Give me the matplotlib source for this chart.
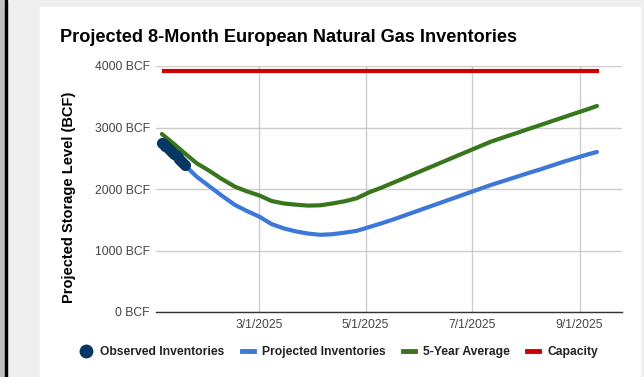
import matplotlib
matplotlib.use("Agg")
import matplotlib.pyplot as plt
import matplotlib.dates as mdates
from matplotlib.patches import Rectangle
from matplotlib.lines import Line2D
import pandas as pd

plt.rcParams['font.family'] = ['Liberation Sans', 'DejaVu Sans']

# ---- data ----
obs_dates = pd.date_range("2025-01-04", "2025-01-17", freq="D")
obs_values = [2745, 2725, 2700, 2675, 2650, 2625, 2600, 2575, 2545, 2515, 2485, 2455, 2420, 2390]

proj_dates = pd.to_datetime([
    "2025-01-17", "2025-01-24", "2025-01-31", "2025-02-07", "2025-02-15", "2025-02-22",
    "2025-03-01", "2025-03-08", "2025-03-15", "2025-03-22", "2025-03-29", "2025-04-05",
    "2025-04-12", "2025-04-19", "2025-04-26", "2025-05-03", "2025-05-10", "2025-05-17",
    "2025-05-24", "2025-05-31", "2025-06-07", "2025-06-14", "2025-06-21", "2025-06-28",
    "2025-07-05", "2025-07-12", "2025-07-19", "2025-07-26", "2025-08-02", "2025-08-09",
    "2025-08-16", "2025-08-23", "2025-08-30", "2025-09-06", "2025-09-11"])
proj_values = [2390, 2200, 2050, 1900, 1740, 1640,
               1550, 1430, 1360, 1310, 1275, 1255,
               1265, 1290, 1320, 1380, 1440, 1505,
               1575, 1645, 1715, 1785, 1855, 1925,
               1995, 2065, 2128, 2190, 2255, 2315,
               2380, 2445, 2505, 2565, 2602]

avg_dates = pd.to_datetime([
    "2025-01-04", "2025-01-11", "2025-01-18", "2025-01-24", "2025-01-31", "2025-02-07",
    "2025-02-15", "2025-02-22", "2025-03-01", "2025-03-08", "2025-03-15", "2025-03-22",
    "2025-03-29", "2025-04-05", "2025-04-12", "2025-04-19", "2025-04-26", "2025-05-03",
    "2025-05-10", "2025-05-17", "2025-05-24", "2025-05-31", "2025-06-07", "2025-06-14",
    "2025-06-21", "2025-06-28", "2025-07-05", "2025-07-12", "2025-07-19", "2025-07-26",
    "2025-08-02", "2025-08-09", "2025-08-16", "2025-08-23", "2025-08-30", "2025-09-06",
    "2025-09-11"])
avg_values = [2894, 2730, 2560, 2418, 2300, 2170,
              2037, 1960, 1895, 1805, 1765, 1745,
              1730, 1735, 1765, 1800, 1850, 1945,
              2020, 2103, 2186, 2270, 2353, 2436,
              2520, 2603, 2686, 2769, 2836, 2902,
              2969, 3035, 3102, 3168, 3235, 3300,
              3350]

cap_dates = pd.to_datetime(["2025-01-05", "2025-09-11"])
cap_values = [3920, 3920]

x_ticks = pd.to_datetime(["2025-03-01", "2025-05-01", "2025-07-01", "2025-09-01"])
x_tick_labels = ["3/1/2025", "5/1/2025", "7/1/2025", "9/1/2025"]
y_ticks = [0, 1000, 2000, 3000, 4000]
y_tick_labels = ["0 BCF", "1000 BCF", "2000 BCF", "3000 BCF", "4000 BCF"]

title = "Projected 8-Month European Natural Gas Inventories"
ylabel = "Projected Storage Level (BCF)"
series_names = ["Observed Inventories", "Projected Inventories", "5-Year Average", "Capacity"]

# ---- colors ----
c_obs = "#073763"
c_proj = "#3c78d8"
c_avg = "#38761d"
c_cap = "#cc0000"

W, H = 644, 377
fig = plt.figure(figsize=(W / 100, H / 100), dpi=100)
fig.patch.set_facecolor("#efefef")
# frame decorations
fig.add_artist(Rectangle((0, 0), 5 / W, 1, transform=fig.transFigure, color="#c0c0c0", zorder=0))
fig.add_artist(Rectangle((5 / W, 0), 2 / W, 1, transform=fig.transFigure, color="#000000", zorder=0))
fig.add_artist(Rectangle((40 / W, 0), 600 / W, 1 - 7 / H, transform=fig.transFigure,
                         color="#ffffff", zorder=0))

ax = fig.add_axes([156 / W, 1 - 312 / H, 466 / W, 246 / H])
ax.set_facecolor("none")

ax.plot(proj_dates, proj_values, color=c_proj, lw=3, solid_capstyle="round", zorder=3)
ax.plot(avg_dates, avg_values, color=c_avg, lw=3, solid_capstyle="round", zorder=2)
ax.plot(cap_dates, cap_values, color=c_cap, lw=3, zorder=2)
ax.plot(obs_dates, obs_values, linestyle="none", marker="o", markersize=8,
        color=c_obs, markeredgewidth=0, zorder=4)

x0 = mdates.date2num(pd.Timestamp("2025-01-01")) - 0.4
x1 = mdates.date2num(pd.Timestamp("2025-09-25")) + 0.4
ax.set_xlim(x0, x1)
ax.set_ylim(0, 4000)

ax.set_xticks(x_ticks)
ax.set_xticklabels(x_tick_labels)
ax.set_yticks(y_ticks)
ax.set_yticklabels(y_tick_labels)
ax.tick_params(axis="both", length=0, labelsize=8.7, labelcolor="#444444")
ax.tick_params(axis="x", pad=5)
ax.tick_params(axis="y", pad=4.5)
ax.grid(True, color="#cccccc", lw=1)
ax.set_axisbelow(True)
for s in ["top", "right", "left"]:
    ax.spines[s].set_visible(False)
ax.spines["bottom"].set_color("#333333")
ax.spines["bottom"].set_linewidth(1)
ax.spines["bottom"].set_zorder(1)

fig.text(60 / W, 1 - 37 / H, title, fontsize=13.1, fontweight="bold", ha="left", va="center",
         color="#000000")
fig.text(69 / W, 1 - 197 / H, ylabel, fontsize=10.5, fontweight="bold", rotation=90,
         ha="center", va="center", color="#000000")

handles = [
    Line2D([], [], linestyle="none", marker="o", markersize=10, color=c_obs, markeredgewidth=0),
    Line2D([], [], color=c_proj, lw=3.5),
    Line2D([], [], color=c_avg, lw=3.5),
    Line2D([], [], color=c_cap, lw=3.5),
]
leg = fig.legend(handles, series_names, loc="center left", bbox_to_anchor=(80 / W, 1 - 352 / H),
                 ncol=4, frameon=False, handlelength=1.0, handletextpad=0.65,
                 columnspacing=1.45, prop={"weight": "bold", "size": 8.7}, borderaxespad=0,
                 borderpad=0)
for t in leg.get_texts():
    t.set_color("#222222")

fig.savefig("out.png", dpi=100, facecolor=fig.get_facecolor())
